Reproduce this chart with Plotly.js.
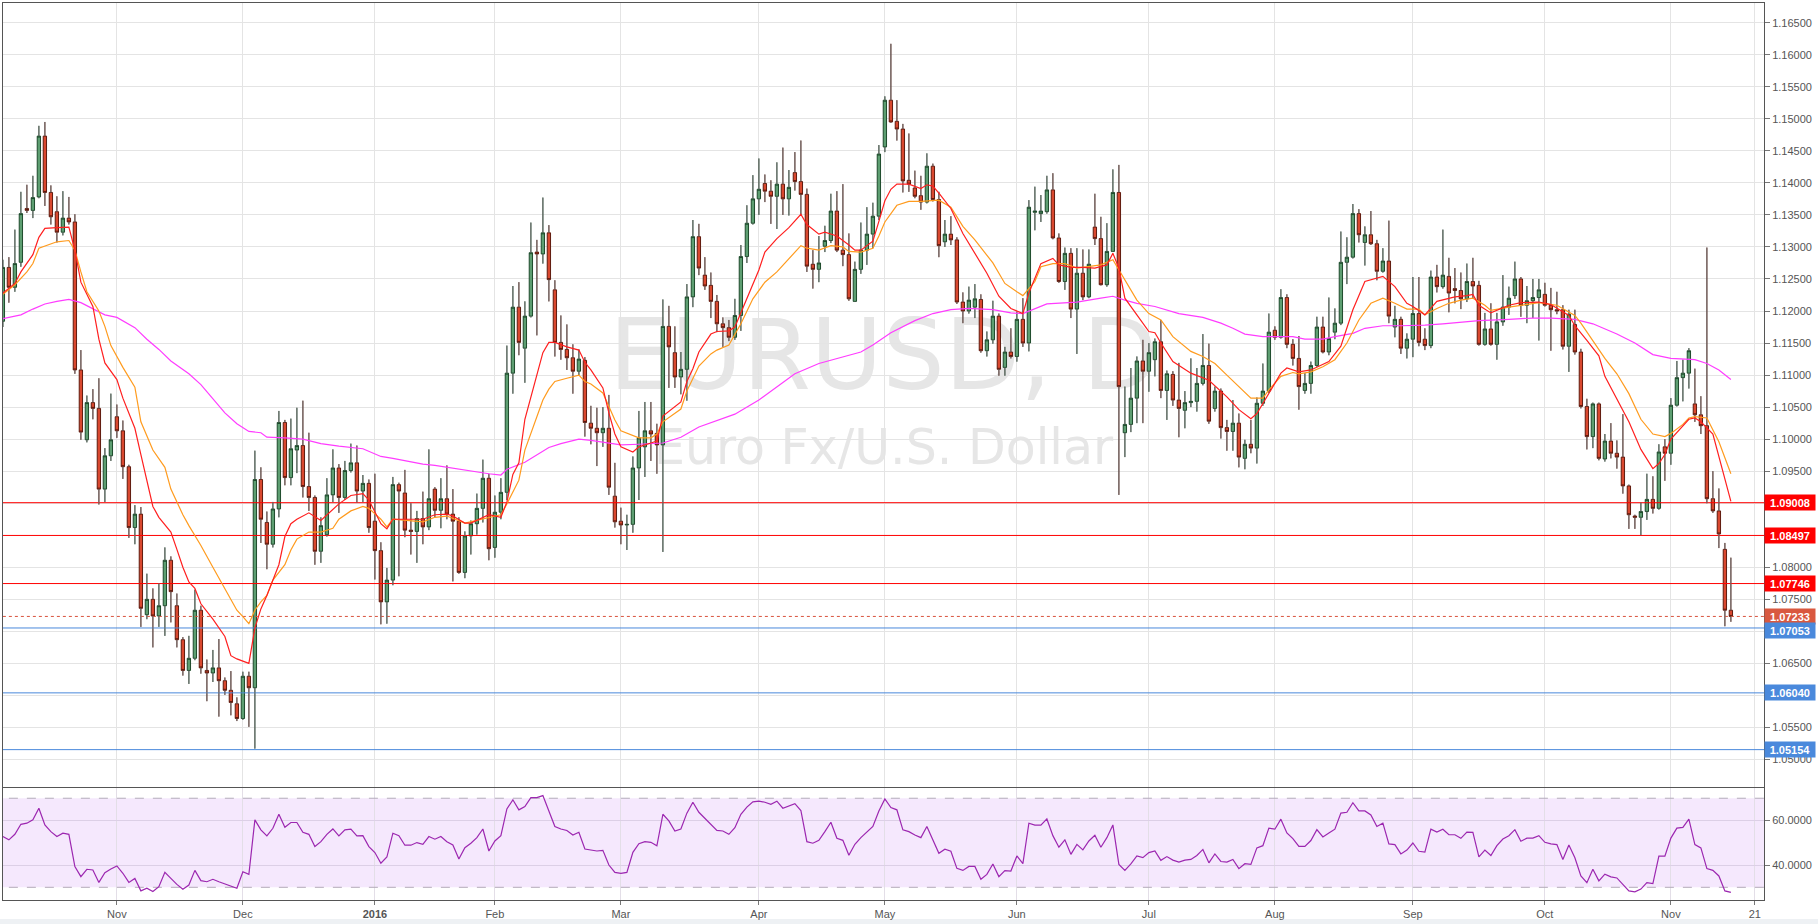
<!DOCTYPE html>
<html><head><meta charset="utf-8">
<script src="https://cdn.plot.ly/plotly-3.0.1.min.js"></script>
<style>html,body{margin:0;padding:0;background:#fff;}#chart{width:1818px;height:924px;}</style>
</head><body><div id="chart"></div>
<script>
// ---------- calendar / ticks ----------
const startDate = '2015-10-06';
const endCalendar = '2016-11-30';
const holidays = ['2015-12-25', '2016-01-01'];
const tickDates = ['2015-11-02','2015-12-01','2016-01-04','2016-02-01','2016-03-01','2016-04-01','2016-05-02','2016-06-01','2016-07-01','2016-08-01','2016-09-01','2016-10-03','2016-11-01','2016-11-21'];
const tickLabels = ['Nov','Dec','<b>2016</b>','Feb','Mar','Apr','May','Jun','Jul','Aug','Sep','Oct','Nov','21'];

// ---------- daily OHLC (EURUSD, D) ----------
const open = [
1.1184,1.1268,1.1237,1.1276,1.1360,1.1357,1.1378,1.1473,1.1385,1.1355,
1.1323,1.1345,1.1339,1.1108,1.0999,1.1057,1.1048,1.0922,1.0974,1.1035,
1.1013,1.0957,1.0862,1.0883,1.0726,1.0750,1.0724,1.0740,1.0811,1.0740,
1.0687,1.0639,1.0658,1.0733,1.0639,1.0635,1.0643,1.0623,1.0608,1.0587,
1.0564,1.0630,1.0612,1.0937,1.0870,1.0836,1.0891,1.1026,1.0940,1.0983,
1.0990,1.0926,1.0909,1.0825,1.0851,1.0913,1.0955,1.0909,1.0951,1.0963,
1.0919,1.0931,1.0872,1.0826,1.0746,1.0780,1.0929,1.0916,1.0858,1.0856,
1.0876,1.0863,1.0922,1.0889,1.0907,1.0883,1.0872,1.0792,1.0849,1.0868,
1.0892,1.0939,1.0831,1.0886,1.0917,1.1103,1.1206,1.1142,1.1192,1.1292,
1.1289,1.1322,1.1233,1.1151,1.1140,1.1127,1.1106,1.1123,1.1025,1.1017,
1.1010,1.1017,1.0911,1.0872,1.0866,1.0867,1.0955,1.0988,1.1013,1.1009,
1.0991,1.1176,1.1135,1.1097,1.1109,1.1222,1.1316,1.1256,1.1240,1.1215,
1.1180,1.1174,1.1159,1.1193,1.1285,1.1337,1.1375,1.1399,1.1387,1.1379,
1.1398,1.1375,1.1416,1.1402,1.1382,1.1273,1.1265,1.1301,1.1310,1.1356,
1.1295,1.1288,1.1215,1.1265,1.1295,1.1320,1.1348,1.1456,1.1529,1.1496,
1.1484,1.1404,1.1392,1.1380,1.1370,1.1426,1.1374,1.1308,1.1320,1.1311,
1.1214,1.1200,1.1206,1.1218,1.1138,1.1155,1.1192,1.1112,1.1136,1.1129,
1.1187,1.1150,1.1354,1.1352,1.1355,1.1389,1.1314,1.1246,1.1290,1.1203,
1.1259,1.1222,1.1331,1.1313,1.1241,1.1293,1.1385,1.1010,1.1023,1.1064,
1.1122,1.1106,1.1124,1.1152,1.1076,1.1101,1.1061,1.1045,1.1057,1.1059,
1.1087,1.1115,1.1048,1.1075,1.1018,1.1012,1.1025,1.0970,1.0992,1.0986,
1.1056,1.1075,1.1170,1.1159,1.1221,1.1148,1.1126,1.1076,1.1087,1.1115,
1.1175,1.1136,1.1167,1.1181,1.1276,1.1284,1.1352,1.1307,1.1319,1.1305,
1.1262,1.1278,1.1175,1.1187,1.1142,1.1156,1.1196,1.1156,1.1146,1.1253,
1.1238,1.1254,1.1235,1.1232,1.1219,1.1246,1.1240,1.1148,1.1172,1.1148,
1.1183,1.1206,1.1224,1.1250,1.1209,1.1216,1.1221,1.1226,1.1209,1.1202,
1.1202,1.1145,1.1179,1.1136,1.1051,1.1004,1.1055,1.0969,1.0997,1.0978,
1.0972,1.0927,1.0880,1.0878,1.0887,1.0906,1.0892,1.0988,1.0978,1.1053,
1.1096,1.1103,1.1055,1.1038,1.1021,1.0907,1.0888,1.0828,1.0733];
const high = [
1.1280,1.1284,1.1327,1.1386,1.1397,1.1411,1.1489,1.1495,1.1396,1.1379,
1.1387,1.1378,1.1351,1.1139,1.1068,1.1078,1.1095,1.0986,1.1071,1.1054,
1.1029,1.0960,1.0897,1.0894,1.0790,1.0767,1.0775,1.0831,1.0817,1.0759,
1.0691,1.0693,1.0765,1.0740,1.0656,1.0671,1.0688,1.0628,1.0638,1.0597,
1.0637,1.0637,1.0982,1.0956,1.0887,1.0902,1.1044,1.1030,1.1032,1.1049,
1.1060,1.1010,1.0912,1.0878,1.0939,1.0984,1.0961,1.0966,1.0993,1.0990,
1.0944,1.0937,1.0946,1.0839,1.0799,1.0941,1.0932,1.0952,1.0900,1.0888,
1.0918,1.0984,1.0925,1.0939,1.0959,1.0922,1.0878,1.0856,1.0873,1.0915,
1.0968,1.0946,1.0912,1.0939,1.1146,1.1239,1.1245,1.1215,1.1338,1.1311,
1.1377,1.1334,1.1248,1.1193,1.1179,1.1148,1.1140,1.1128,1.1052,1.1049,
1.1050,1.1069,1.0963,1.0893,1.0882,1.0973,1.1044,1.1058,1.1058,1.1024,
1.1218,1.1208,1.1176,1.1136,1.1242,1.1342,1.1336,1.1284,1.1260,1.1225,
1.1190,1.1186,1.1219,1.1303,1.1365,1.1412,1.1438,1.1413,1.1404,1.1432,
1.1455,1.1420,1.1448,1.1466,1.1391,1.1295,1.1317,1.1333,1.1383,1.1387,
1.1398,1.1321,1.1277,1.1338,1.1362,1.1369,1.1459,1.1535,1.1617,1.1529,
1.1492,1.1477,1.1419,1.1411,1.1446,1.1430,1.1386,1.1342,1.1348,1.1315,
1.1229,1.1238,1.1242,1.1226,1.1168,1.1216,1.1196,1.1144,1.1173,1.1199,
1.1220,1.1373,1.1394,1.1381,1.1411,1.1415,1.1321,1.1299,1.1298,1.1298,
1.1296,1.1296,1.1383,1.1347,1.1337,1.1421,1.1428,1.1082,1.1111,1.1129,
1.1155,1.1150,1.1157,1.1186,1.1107,1.1106,1.1119,1.1075,1.1126,1.1111,
1.1164,1.1149,1.1082,1.1079,1.1030,1.1061,1.1040,1.0999,1.1030,1.1065,
1.1118,1.1196,1.1176,1.1234,1.1226,1.1156,1.1161,1.1103,1.1121,1.1191,
1.1191,1.1221,1.1204,1.1324,1.1315,1.1367,1.1359,1.1332,1.1356,1.1311,
1.1298,1.1341,1.1208,1.1191,1.1165,1.1253,1.1253,1.1173,1.1263,1.1272,
1.1327,1.1283,1.1267,1.1260,1.1274,1.1283,1.1247,1.1197,1.1212,1.1197,
1.1256,1.1238,1.1277,1.1253,1.1239,1.1250,1.1250,1.1244,1.1236,1.1230,
1.1209,1.1202,1.1202,1.1141,1.1063,1.1057,1.1057,1.1008,1.1025,1.0998,
1.1039,1.0929,1.0882,1.0901,1.0946,1.0942,1.0992,1.1000,1.1064,1.1122,
1.1124,1.1142,1.1110,1.1067,1.1299,1.0950,1.0923,1.0838,1.0815];
const low = [
1.1175,1.1213,1.1230,1.1269,1.1353,1.1345,1.1376,1.1364,1.1335,1.1307,
1.1318,1.1335,1.1102,1.0999,1.0995,1.1031,1.0898,1.0902,1.0966,1.1002,
1.0938,1.0846,1.0836,1.0707,1.0719,1.0675,1.0707,1.0693,1.0714,1.0675,
1.0631,1.0618,1.0655,1.0634,1.0591,1.0621,1.0567,1.0601,1.0569,1.0560,
1.0562,1.0551,1.0517,1.0838,1.0797,1.0831,1.0878,1.0928,1.0928,1.0947,
1.0909,1.0888,1.0804,1.0807,1.0848,1.0902,1.0885,1.0905,1.0948,1.0901,
1.0902,1.0854,1.0781,1.0711,1.0712,1.0772,1.0786,1.0847,1.0820,1.0807,
1.0836,1.0858,1.0878,1.0861,1.0875,1.0778,1.0790,1.0783,1.0820,1.0851,
1.0870,1.0811,1.0815,1.0875,1.0905,1.1071,1.1131,1.1088,1.1190,1.1162,
1.1274,1.1215,1.1129,1.1124,1.1108,1.1071,1.1100,1.1004,1.0992,1.0958,
1.0988,1.0913,1.0862,1.0836,1.0827,1.0854,1.0905,1.0941,1.0966,1.0946,
1.0824,1.1080,1.1080,1.1070,1.1060,1.1206,1.1256,1.1233,1.1189,1.1167,
1.1144,1.1153,1.1155,1.1169,1.1275,1.1335,1.1350,1.1370,1.1336,1.1328,
1.1350,1.1349,1.1388,1.1350,1.1261,1.1235,1.1245,1.1292,1.1306,1.1292,
1.1270,1.1216,1.1214,1.1258,1.1272,1.1298,1.1342,1.1448,1.1494,1.1466,
1.1385,1.1386,1.1376,1.1358,1.1368,1.1371,1.1284,1.1300,1.1303,1.1211,
1.1181,1.1196,1.1189,1.1135,1.1129,1.1149,1.1099,1.1099,1.1126,1.1121,
1.1144,1.1137,1.1326,1.1339,1.1352,1.1312,1.1244,1.1233,1.1189,1.1133,
1.1217,1.1220,1.1303,1.1240,1.1238,1.1292,1.0913,1.0972,1.1011,1.1025,
1.1025,1.1074,1.1098,1.1064,1.1030,1.1052,1.1003,1.1017,1.1050,1.1043,
1.1084,1.1024,1.1043,1.1001,1.0982,1.0982,1.0956,1.0953,1.0978,1.0962,
1.1052,1.1072,1.1155,1.1157,1.1142,1.1115,1.1046,1.1071,1.1071,1.1113,
1.1134,1.1131,1.1156,1.1178,1.1242,1.1282,1.1307,1.1271,1.1303,1.1248,
1.1260,1.1181,1.1159,1.1133,1.1126,1.1128,1.1145,1.1139,1.1142,1.1229,
1.1235,1.1198,1.1212,1.1203,1.1214,1.1219,1.1146,1.1146,1.1146,1.1124,
1.1177,1.1194,1.1219,1.1191,1.1181,1.1189,1.1154,1.1207,1.1138,1.1195,
1.1140,1.1105,1.1132,1.1048,1.0984,1.0986,1.0967,1.0965,1.0970,1.0954,
1.0915,1.0860,1.0860,1.0850,1.0874,1.0884,1.0890,1.0935,1.0960,1.1051,
1.1059,1.1079,1.1027,1.1008,1.0900,1.0885,1.0830,1.0708,1.0715];
const close = [
1.1268,1.1237,1.1274,1.1352,1.1357,1.1377,1.1473,1.1385,1.1347,1.1323,
1.1345,1.1339,1.1108,1.1011,1.1057,1.1048,1.0922,1.0974,1.0999,1.1013,
1.0957,1.0862,1.0883,1.0736,1.0750,1.0724,1.0740,1.0811,1.0762,1.0687,
1.0639,1.0658,1.0733,1.0643,1.0635,1.0643,1.0623,1.0608,1.0589,1.0564,
1.0630,1.0612,1.0937,1.0875,1.0836,1.0891,1.1026,1.0940,1.0985,1.0990,
1.0926,1.0909,1.0825,1.0865,1.0913,1.0955,1.0909,1.0951,1.0963,1.0919,
1.0931,1.0862,1.0826,1.0746,1.0780,1.0929,1.0919,1.0858,1.0856,1.0876,
1.0863,1.0907,1.0889,1.0907,1.0883,1.0872,1.0792,1.0849,1.0868,1.0892,
1.0939,1.0829,1.0886,1.0917,1.1103,1.1206,1.1151,1.1192,1.1291,1.1289,
1.1322,1.1249,1.1151,1.1140,1.1127,1.1106,1.1125,1.1026,1.1017,1.1010,
1.1017,1.0925,1.0871,1.0866,1.0867,1.0955,1.1002,1.1013,1.1008,1.0991,
1.1176,1.1144,1.1097,1.1109,1.1222,1.1316,1.1267,1.1239,1.1215,1.1180,
1.1174,1.1159,1.1193,1.1285,1.1337,1.1375,1.1390,1.1387,1.1379,1.1398,
1.1375,1.1393,1.1402,1.1382,1.1270,1.1265,1.1275,1.1310,1.1356,1.1295,
1.1288,1.1219,1.1265,1.1295,1.1320,1.1348,1.1445,1.1529,1.1495,1.1484,
1.1403,1.1398,1.1379,1.1370,1.1426,1.1374,1.1302,1.1320,1.1311,1.1214,
1.1200,1.1217,1.1219,1.1138,1.1155,1.1192,1.1109,1.1136,1.1129,1.1187,
1.1150,1.1362,1.1356,1.1356,1.1389,1.1314,1.1246,1.1290,1.1203,1.1259,
1.1222,1.1273,1.1313,1.1241,1.1293,1.1385,1.1082,1.1023,1.1064,1.1122,
1.1106,1.1135,1.1152,1.1076,1.1102,1.1061,1.1048,1.1057,1.1059,1.1087,
1.1115,1.1028,1.1075,1.1018,1.1012,1.1025,1.0972,1.0992,1.0986,1.1056,
1.1075,1.1167,1.1159,1.1221,1.1148,1.1126,1.1082,1.1087,1.1115,1.1175,
1.1136,1.1157,1.1181,1.1276,1.1284,1.1352,1.1319,1.1319,1.1305,1.1262,
1.1278,1.1192,1.1187,1.1142,1.1156,1.1196,1.1151,1.1146,1.1253,1.1238,
1.1256,1.1228,1.1232,1.1219,1.1246,1.1239,1.1148,1.1172,1.1148,1.1183,
1.1206,1.1220,1.1250,1.1209,1.1216,1.1221,1.1233,1.1209,1.1202,1.1200,
1.1145,1.1195,1.1136,1.1051,1.1004,1.1055,1.0970,1.0997,1.0978,1.0972,
1.0927,1.0882,1.0878,1.0887,1.0906,1.0892,1.0980,1.0978,1.1053,1.1096,
1.1103,1.1138,1.1038,1.1021,1.0907,1.0888,1.0852,1.0733,1.07233];

// ---------- moving averages (candle index / value) ----------
const fastMaX = [0,2,3,4,5,6,7,9,11,12,13,15,16,17,19,20,22,23,24,25,26,28,29,30,31,32,33,35,37,38,39,41,42,43,44,46,47,48,49,51,53,55,56,58,60,61,63,64,65,67,70,72,74,75,77,78,80,81,83,84,85,86,87,89,90,91,92,94,96,97,98,100,101,102,103,105,106,108,109,110,113,114,115,116,118,119,121,122,124,126,127,129,131,133,134,136,137,139,141,142,143,145,146,147,148,149,151,153,154,155,156,158,160,162,164,166,168,170,171,173,175,176,178,180,182,184,185,186,187,189,191,192,193,195,198,201,204,206,208,209,211,213,214,216,218,220,221,223,225,227,229,230,232,234,235,237,239,241,242,244,245,246,248,251,253,256,258,261,262,264,266,267,269,271,273,275,276,277,278,280,281,282,283,285,286,287,288];
const fastMaY = [1.1228,1.1243,1.1261,1.1274,1.1288,1.1315,1.1329,1.1330,1.1331,1.1295,1.1245,1.1207,1.1156,1.1119,1.1093,1.1064,1.1017,1.0976,1.0936,1.0895,1.0878,1.0855,1.0828,1.0800,1.0777,1.0767,1.0743,1.0719,1.0692,1.0662,1.0657,1.0650,1.0705,1.0735,1.0756,1.0804,1.0848,1.0868,1.0875,1.0885,1.0873,1.0890,1.0899,1.0912,1.0915,1.0905,1.0868,1.0860,1.0875,1.0875,1.0875,1.0882,1.0883,1.0880,1.0869,1.0869,1.0878,1.0882,1.0878,1.0902,1.0945,1.0963,1.1031,1.1098,1.1135,1.1151,1.1151,1.1144,1.1139,1.1120,1.1108,1.1080,1.1041,1.1008,1.0988,1.0980,1.0988,1.0994,1.0997,1.1036,1.1058,1.1090,1.1110,1.1136,1.1164,1.1168,1.1169,1.1175,1.1219,1.1264,1.1292,1.1313,1.1330,1.1351,1.1335,1.1320,1.1323,1.1317,1.1303,1.1295,1.1295,1.1309,1.1340,1.1372,1.1390,1.1398,1.1398,1.1391,1.1397,1.1395,1.1384,1.1360,1.1321,1.1290,1.1259,1.1223,1.1204,1.1196,1.1228,1.1274,1.1282,1.1272,1.1268,1.1268,1.1267,1.1272,1.1290,1.1267,1.1220,1.1194,1.1168,1.1166,1.1150,1.1121,1.1103,1.1092,1.1066,1.1046,1.1032,1.1040,1.1071,1.1103,1.1111,1.1105,1.1108,1.1117,1.1121,1.1145,1.1202,1.1246,1.1251,1.1254,1.1238,1.1212,1.1207,1.1194,1.1215,1.1220,1.1222,1.1224,1.1226,1.1209,1.1197,1.1209,1.1213,1.1214,1.1210,1.1193,1.1177,1.1154,1.1130,1.1098,1.1063,1.1027,1.0984,1.0954,1.0962,1.0976,1.1000,1.1020,1.1031,1.1033,1.1027,1.1008,1.0972,1.0937,1.0903];
const slowMaX = [0,2,4,5,6,8,9,11,12,13,14,16,17,18,20,22,23,25,27,28,30,31,33,35,37,39,40,41,42,43,44,45,47,48,49,51,53,55,56,58,60,61,63,64,65,67,70,72,74,77,78,80,81,83,84,86,87,89,90,91,92,94,96,97,98,100,101,102,103,105,106,108,109,110,113,114,116,118,119,121,123,125,127,129,131,133,134,136,138,140,141,143,145,146,147,149,151,153,156,158,160,162,165,167,169,170,172,173,175,177,179,181,183,185,187,189,191,193,195,198,200,202,204,206,208,210,211,213,215,216,218,220,222,224,226,228,230,232,234,236,237,239,241,243,245,247,248,251,253,256,259,262,263,265,267,269,271,273,275,277,278,280,281,282,284,286,287,288];
const slowMaY = [1.1226,1.1241,1.1261,1.1274,1.1298,1.1305,1.1308,1.1310,1.1295,1.1261,1.1230,1.1200,1.1176,1.1146,1.1112,1.1081,1.1027,1.0983,1.0956,1.0922,1.0882,1.0865,1.0834,1.0800,1.0767,1.0733,1.0723,1.0712,1.0733,1.0746,1.0756,1.0780,1.0804,1.0827,1.0844,1.0855,1.0855,1.0861,1.0875,1.0888,1.0895,1.0892,1.0875,1.0863,1.0875,1.0873,1.0871,1.0878,1.0880,1.0869,1.0871,1.0875,1.0878,1.0882,1.0899,1.0936,1.0983,1.1034,1.1061,1.1078,1.1090,1.1095,1.1100,1.1090,1.1086,1.1072,1.1052,1.1030,1.1013,1.1005,1.1002,1.1002,1.1008,1.1027,1.1047,1.1075,1.1114,1.1133,1.1139,1.1147,1.1180,1.1219,1.1245,1.1261,1.1282,1.1302,1.1298,1.1295,1.1302,1.1300,1.1293,1.1292,1.1298,1.1317,1.1339,1.1365,1.1371,1.1371,1.1373,1.1362,1.1332,1.1311,1.1275,1.1243,1.1230,1.1224,1.1246,1.1269,1.1274,1.1274,1.1267,1.1269,1.1272,1.1280,1.1249,1.1217,1.1196,1.1186,1.1160,1.1137,1.1129,1.1118,1.1100,1.1082,1.1064,1.1064,1.1077,1.1098,1.1104,1.1102,1.1105,1.1113,1.1124,1.1150,1.1186,1.1212,1.1220,1.1212,1.1203,1.1203,1.1194,1.1204,1.1212,1.1217,1.1220,1.1209,1.1201,1.1206,1.1209,1.1213,1.1209,1.1193,1.1181,1.1154,1.1126,1.1102,1.1071,1.1031,1.1008,1.1004,1.1009,1.1023,1.1033,1.1035,1.1033,1.0996,1.0972,1.0946];
const longMaX = [0,3,5,7,9,11,13,15,17,19,22,24,26,28,31,33,35,37,39,41,43,44,47,50,53,56,60,63,65,67,70,72,74,77,80,81,83,84,87,89,91,93,96,98,103,106,110,113,116,122,126,132,136,143,145,148,152,155,158,161,165,168,170,174,179,183,185,187,189,192,194,196,200,203,205,207,210,212,215,217,220,222,225,227,230,233,237,240,243,246,251,255,258,262,265,269,272,275,278,282,284,286,288];
const longMaY = [1.1188,1.1194,1.1203,1.1211,1.1215,1.1218,1.1213,1.1203,1.1194,1.1190,1.1174,1.1156,1.1140,1.1122,1.1102,1.1085,1.1063,1.1041,1.1024,1.1012,1.1010,1.1003,1.1002,1.1000,1.0993,1.0989,1.0985,1.0973,1.0970,1.0966,1.0961,1.0959,1.0956,1.0951,1.0947,1.0946,1.0944,1.0953,1.0964,1.0976,1.0987,1.0993,1.1000,1.0998,1.0991,1.0992,1.0994,1.1003,1.1019,1.1039,1.1061,1.1102,1.1118,1.1136,1.1147,1.1166,1.1185,1.1196,1.1202,1.1204,1.1202,1.1197,1.1196,1.1211,1.1214,1.1220,1.1223,1.1217,1.1212,1.1207,1.1201,1.1196,1.1190,1.1181,1.1173,1.1164,1.1160,1.1160,1.1160,1.1156,1.1156,1.1160,1.1165,1.1173,1.1177,1.1177,1.1178,1.1180,1.1183,1.1185,1.1187,1.1189,1.1189,1.1187,1.1180,1.1164,1.1150,1.1132,1.1126,1.1124,1.1118,1.1108,1.1093];

// ---------- RSI ----------
const rsi = [
52.8,51.3,53.8,58.3,58.8,60.3,65.5,58.0,55.0,52.8,
54.3,53.8,39.3,34.8,38.1,37.8,32.2,36.6,38.2,39.6,
36.3,32.2,34.0,28.4,29.6,28.1,30.3,36.7,34.0,31.3,
29.1,31.0,37.6,33.0,32.5,33.6,32.5,31.6,30.7,29.6,
37.0,35.8,60.3,55.8,53.1,56.5,62.8,57.0,59.1,59.1,
54.7,53.8,48.3,50.5,53.8,56.2,53.1,55.8,56.1,53.1,
53.2,48.3,45.6,40.8,43.6,54.3,53.2,48.9,48.9,50.1,
49.3,52.8,51.6,52.8,50.5,49.0,42.7,47.8,49.8,52.3,
56.2,46.3,50.8,53.2,65.2,69.3,64.8,66.3,70.3,70.3,
71.2,64.3,57.3,56.2,55.5,53.5,54.7,47.2,46.8,46.3,
46.6,40.0,36.7,36.3,36.7,45.7,49.6,50.5,50.2,48.6,
62.8,59.8,55.3,56.2,63.3,68.2,63.7,61.0,58.3,55.6,
55.3,53.8,56.8,62.8,66.0,68.4,68.7,68.2,67.3,68.7,
65.5,66.7,67.6,64.5,50.5,49.8,51.1,55.0,59.2,52.0,
51.1,44.4,49.3,52.3,55.0,57.3,64.3,69.7,65.8,64.8,
55.8,55.0,53.5,52.3,57.3,51.6,45.3,47.1,46.2,38.5,
37.6,39.4,39.4,33.6,35.8,40.5,34.8,37.5,37.3,44.1,
40.6,58.8,57.9,57.9,60.7,53.2,48.0,51.3,44.8,49.3,
46.8,50.8,53.4,48.0,52.3,58.0,40.3,37.6,40.5,44.1,
43.3,45.6,46.3,42.1,43.8,42.2,41.3,42.2,42.5,44.3,
47.0,41.0,45.0,41.6,41.3,42.5,38.4,40.6,40.3,47.7,
48.7,56.6,56.1,60.6,54.4,51.9,48.4,48.4,51.0,55.9,
52.6,54.4,56.1,63.3,63.7,68.0,64.3,64.3,62.5,57.3,
58.8,49.5,49.2,45.0,46.7,49.9,46.2,45.8,56.1,54.8,
56.1,53.6,53.6,52.0,54.8,54.7,43.7,46.7,44.3,48.7,
51.7,53.2,55.9,50.7,52.1,52.1,53.2,50.2,49.5,49.2,
42.5,49.0,43.3,35.1,32.1,38.1,32.9,35.9,34.7,34.2,
31.4,28.4,28.0,29.2,32.1,31.7,44.0,44.0,52.1,56.6,
56.9,60.6,49.2,47.7,38.4,37.6,35.1,28.4,27.7];
const rsiBands = [30, 70];
const rsiGridVals = [40, 60];

// ---------- horizontal levels ----------
const resistanceLevels = [1.09008, 1.08497, 1.07746];
const supportLevels = [1.07053, 1.06040, 1.05154];
const lastPrice = 1.07233;

const watermarkTexts = ['EURUSD, D', 'Euro Fx/U.S. Dollar'];

// ---------- build ----------
function tradingDays(start, end) {
  const out = [];
  const d = new Date(start + 'T00:00:00Z');
  const e = new Date(end + 'T00:00:00Z');
  while (d <= e) {
    const wd = d.getUTCDay();
    const s = d.toISOString().slice(0, 10);
    if (wd !== 0 && wd !== 6 && !holidays.includes(s)) out.push(s);
    d.setUTCDate(d.getUTCDate() + 1);
  }
  return out;
}
const calendar = tradingDays(startDate, endCalendar);
const dates = calendar.slice(0, close.length);
const idx = dates.map((_, i) => i);
const tickVals = tickDates.map(d => calendar.indexOf(d));

// wick segments outside the candle body
const wx = [], wy = [];
for (let i = 0; i < close.length; i++) {
  const top = Math.max(open[i], close[i]);
  const bot = Math.min(open[i], close[i]);
  wx.push(i, i, null, i, i, null);
  wy.push(high[i], top, null, bot, low[i], null);
}

const GREEN_FILL = '#5d9e71', GREEN_LINE = '#1d4a2b';
const RED_FILL = '#d9482f', RED_LINE = '#5f1a0e';

// horizontal level lines drawn as line traces spanning the whole axis range
const levelTraces = [];
function levelTrace(v, color, dash, xa, ya) {
  return { type: 'scatter', mode: 'lines', xaxis: xa, yaxis: ya, x: [-5, 300], y: [v, v],
    line: { color: color, width: 1, dash: dash || 'solid' }, hoverinfo: 'skip' };
}
resistanceLevels.forEach(v => levelTraces.push(levelTrace(v, '#ff0000', 'solid', 'x2', 'y2')));
supportLevels.forEach(v => levelTraces.push(levelTrace(v, '#4a89dc', 'solid', 'x2', 'y2')));
levelTraces.push(levelTrace(lastPrice, '#d9533d', 'dot', 'x2', 'y2'));
rsiBands.forEach(v => levelTraces.push(levelTrace(v, '#b3abba', 'dash', 'x3', 'y3')));

const traces = [
  { type: 'scatter', mode: 'text', xaxis: 'x', yaxis: 'y',
    x: [0.5, 0.5], y: [0.539, 0.427], text: watermarkTexts,
    textposition: 'middle center',
    textfont: { family: 'DejaVu Sans, Verdana, sans-serif', size: [98, 49], color: '#e6e6e6' },
    hoverinfo: 'skip', cliponaxis: false },
  { type: 'candlestick', xaxis: 'x2', yaxis: 'y2', x: idx,
    open: open, high: high, low: low, close: close,
    increasing: { line: { color: GREEN_LINE, width: 1 }, fillcolor: GREEN_FILL },
    decreasing: { line: { color: RED_LINE, width: 1 }, fillcolor: RED_FILL },
    whiskerwidth: 0, hoverinfo: 'skip' }
].concat(levelTraces).concat([
  { type: 'scatter', mode: 'lines', xaxis: 'x2', yaxis: 'y2', x: wx, y: wy,
    line: { color: '#707070', width: 1 }, hoverinfo: 'skip', connectgaps: false },
  { type: 'scatter', mode: 'lines', xaxis: 'x2', yaxis: 'y2', x: longMaX, y: longMaY,
    line: { color: '#ff3cff', width: 1.2 }, hoverinfo: 'skip' },
  { type: 'scatter', mode: 'lines', xaxis: 'x2', yaxis: 'y2', x: slowMaX, y: slowMaY,
    line: { color: '#ff9b1e', width: 1.2 }, hoverinfo: 'skip' },
  { type: 'scatter', mode: 'lines', xaxis: 'x2', yaxis: 'y2', x: fastMaX, y: fastMaY,
    line: { color: '#ff1f1f', width: 1.2 }, hoverinfo: 'skip' },
  { type: 'scatter', mode: 'lines', xaxis: 'x3', yaxis: 'y3', x: idx, y: rsi,
    line: { color: '#9c27b0', width: 1.2 }, hoverinfo: 'skip' }
]);

const XR = [0.02, 293.52];
const PRICE_DOM = [0.12598, 1];
const RSI_DOM = [0, 0.12486];

const shapes = [
  { type: 'rect', xref: 'paper', yref: 'y3', x0: 0, x1: 1, y0: rsiBands[0], y1: rsiBands[1],
    fillcolor: '#f5e8fd', line: { width: 0 }, layer: 'below' },
  { type: 'rect', xref: 'paper', yref: 'paper', x0: -0.003, x1: 1.032, y0: -0.03, y1: -0.0212,
    fillcolor: '#eef1f4', line: { width: 0 }, layer: 'below' }
];

function priceLabel(v, color, yshift) {
  return { xref: 'paper', x: 1, xanchor: 'left', yref: 'y2', y: v, yanchor: 'middle', yshift: yshift || 0,
    text: '<b>' + v.toFixed(5) + '</b>', showarrow: false, bgcolor: color,
    font: { family: 'Liberation Sans, Arial, sans-serif', size: 11, color: '#ffffff' },
    width: 48, height: 13, borderpad: 1, align: 'center' };
}
const annotations = [];
resistanceLevels.forEach(v => annotations.push(priceLabel(v, '#ff0000')));
annotations.push(priceLabel(lastPrice, '#d9583f'));
supportLevels.forEach((v, k) => annotations.push(priceLabel(v, '#4a89dc', k === 0 ? -3 : 0)));

const axisFont = { family: 'Liberation Sans, Arial, sans-serif', size: 11, color: '#555555' };

const layout = {
  width: 1818, height: 924,
  margin: { l: 3, r: 54, t: 3, b: 24, pad: 0 },
  paper_bgcolor: '#ffffff', plot_bgcolor: 'rgba(0,0,0,0)',
  showlegend: false, hovermode: false,
  boxgap: 0.2, boxgroupgap: 0.31,
  font: axisFont,
  xaxis: { domain: [0, 1], range: [0, 1], visible: false, fixedrange: true },
  yaxis: { domain: PRICE_DOM, range: [0, 1], visible: false, fixedrange: true },
  xaxis2: { anchor: 'y2', domain: [0, 1], range: XR, tickmode: 'array', tickvals: tickVals, ticktext: tickLabels,
    showticklabels: false, ticks: '', showgrid: true, gridcolor: '#e4e4e4', gridwidth: 1, zeroline: false,
    showline: true, mirror: true, linecolor: '#555555', linewidth: 1, rangeslider: { visible: false } },
  yaxis2: { anchor: 'x2', domain: PRICE_DOM, range: [1.04571, 1.16807], side: 'right',
    tickmode: 'linear', tick0: 1.05, dtick: 0.005, tickformat: '.5f', ticks: 'outside', ticklen: 5,
    tickcolor: '#777777', tickfont: axisFont, showgrid: true, gridcolor: '#e4e4e4', zeroline: false,
    showline: true, mirror: true, linecolor: '#555555', linewidth: 1 },
  xaxis3: { anchor: 'y3', domain: [0, 1], range: XR, tickmode: 'array', tickvals: tickVals, ticktext: tickLabels,
    ticks: 'outside', ticklen: 4, tickcolor: '#777777', tickfont: axisFont, showgrid: true, gridcolor: '#e3dee7',
    zeroline: false, showline: true, mirror: true, linecolor: '#555555', linewidth: 1 },
  yaxis3: { anchor: 'x3', domain: RSI_DOM, range: [24.3, 74.6], side: 'right', tickmode: 'array',
    tickvals: rsiGridVals, ticktext: rsiGridVals.map(v => v.toFixed(4)), ticks: 'outside', ticklen: 5,
    tickcolor: '#777777', tickfont: axisFont, showgrid: true, gridcolor: '#dccfe6', zeroline: false,
    showline: true, mirror: true, linecolor: '#555555', linewidth: 1 },
  shapes: shapes,
  annotations: annotations
};

Plotly.newPlot('chart', traces, layout, { staticPlot: true, displayModeBar: false });
</script>
</body></html>
